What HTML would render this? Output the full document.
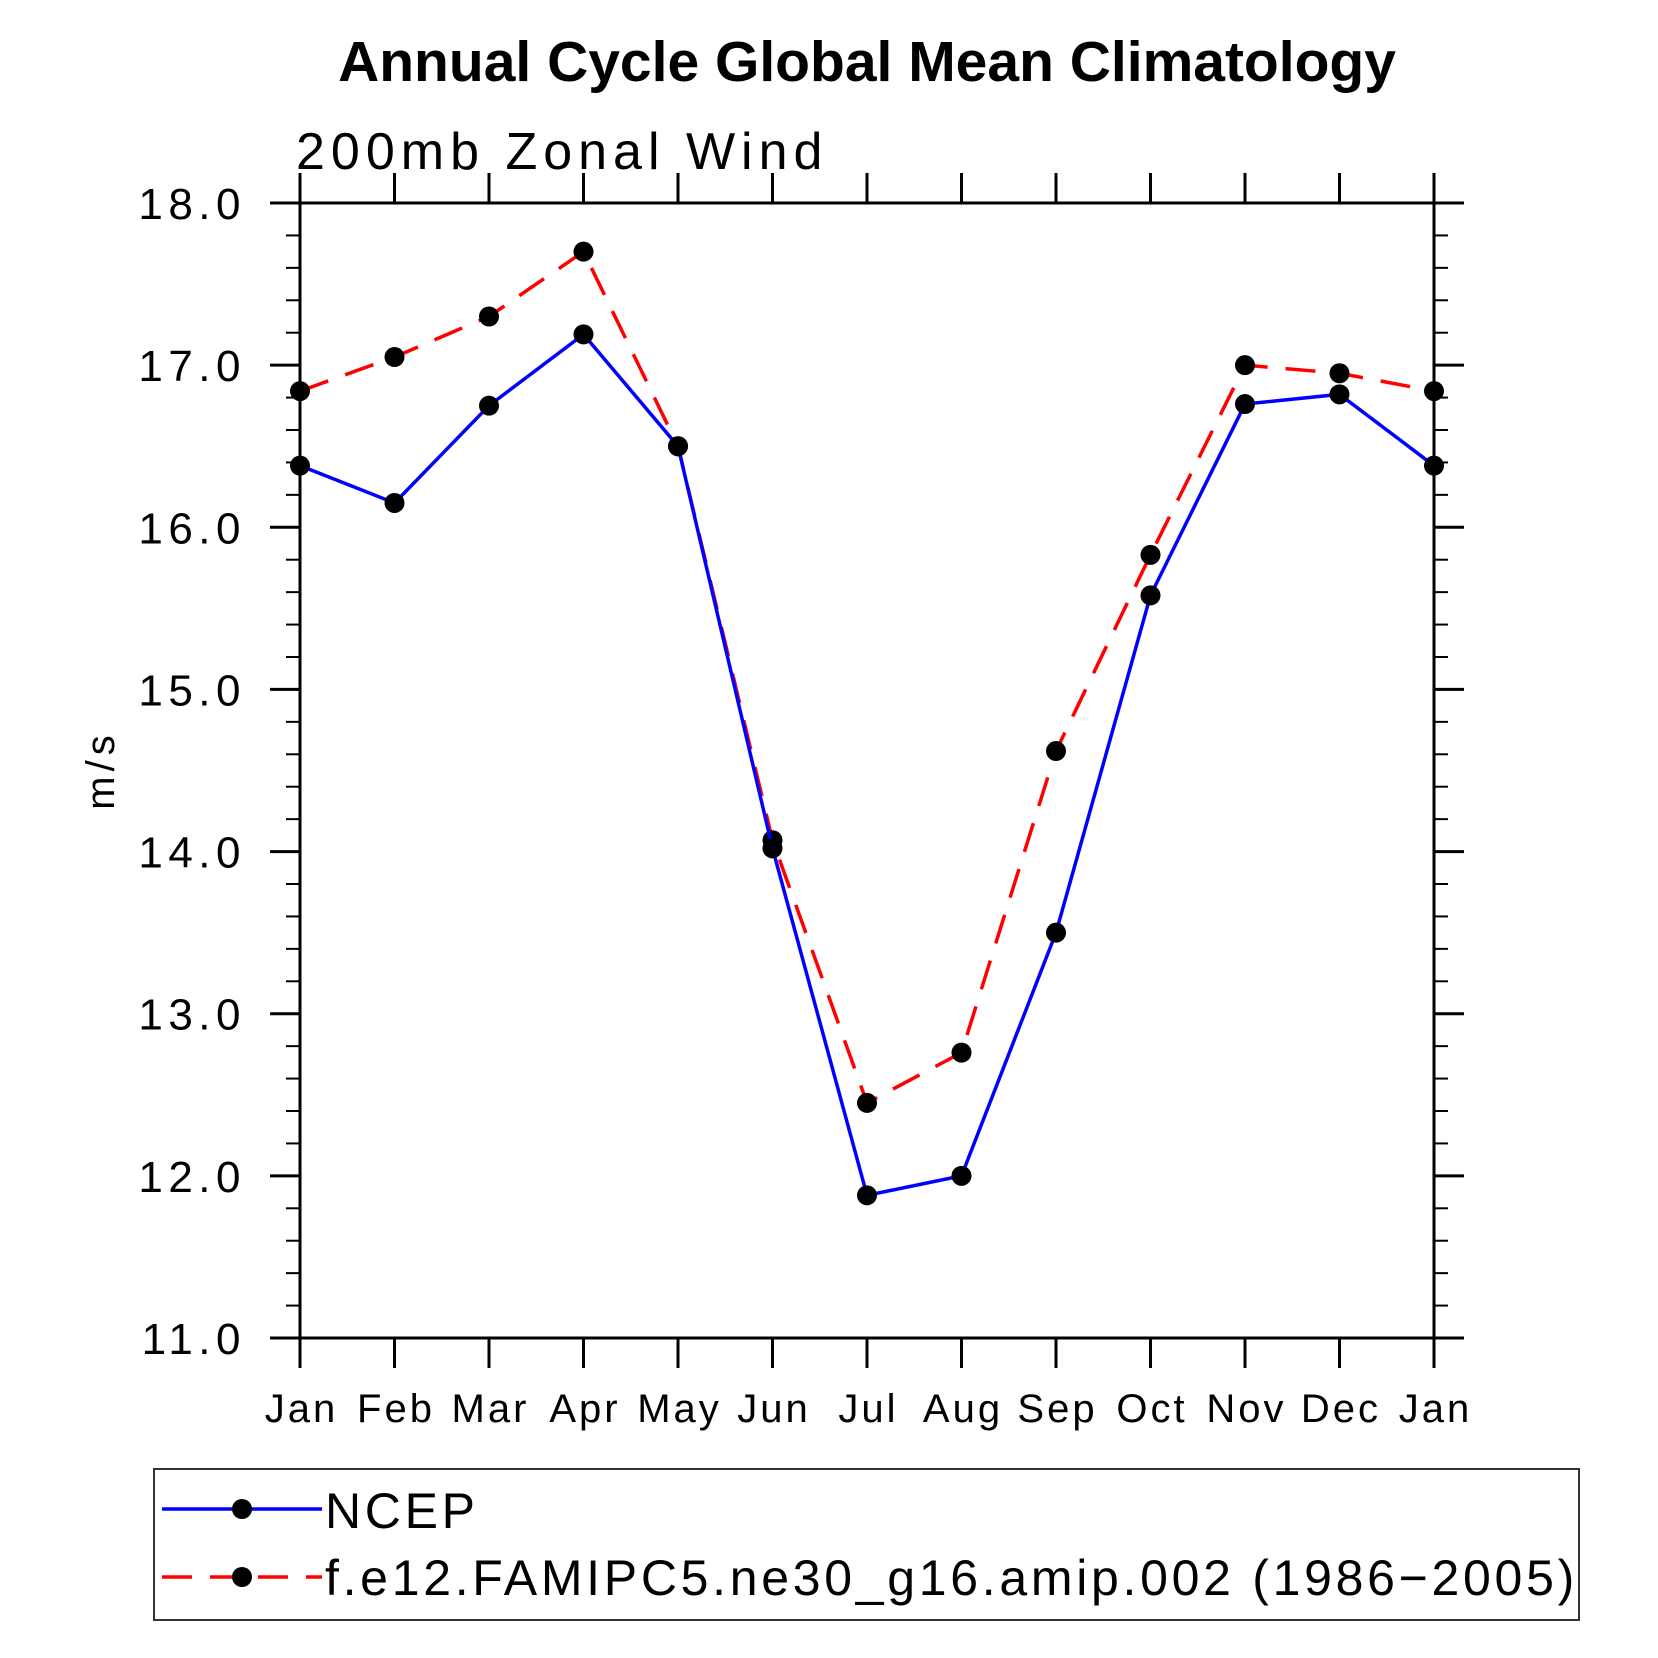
<!DOCTYPE html>
<html><head><meta charset="utf-8"><style>
html,body{margin:0;padding:0;background:#fff}
svg{display:block}
text{font-family:"Liberation Sans",sans-serif;fill:#000}
</style></head><body>
<svg id="chart" width="1658" height="1658" viewBox="0 0 1658 1658" xmlns="http://www.w3.org/2000/svg">
<text x="867" y="81" text-anchor="middle" font-size="57" font-weight="bold">Annual Cycle Global Mean Climatology</text>
<text x="296" y="169" font-size="52" letter-spacing="6">200mb Zonal Wind</text>
<text transform="translate(114,770) rotate(-90)" text-anchor="middle" font-size="40" letter-spacing="5">m/s</text>
<g id="axes"></g>
<g id="series"></g>
<rect x="154" y="1469" width="1425" height="151" fill="none" stroke="#333" stroke-width="2"/>
<g>
<line x1="162" y1="1509" x2="322" y2="1509" stroke="#0000ff" stroke-width="3.5"/>
<circle cx="242" cy="1509" r="10" fill="#000"/>
<text x="325" y="1528" font-size="50" letter-spacing="3.7">NCEP</text>
</g>
<g>
<line x1="162" y1="1577" x2="322" y2="1577" stroke="#ff0000" stroke-width="3.5" stroke-dasharray="30,18"/>
<circle cx="242" cy="1577" r="10" fill="#000"/>
<text x="325" y="1595" font-size="50" letter-spacing="3.7">f.e12.FAMIPC5.ne30_g16.amip.002 (1986−2005)</text>
</g>
</svg>
<script>
const months=["Jan","Feb","Mar","Apr","May","Jun","Jul","Aug","Sep","Oct","Nov","Dec","Jan"];
const ncep=[16.38,16.15,16.75,17.19,16.5,14.02,11.88,12.0,13.5,15.58,16.76,16.82,16.38];
const model=[16.84,17.05,17.3,17.7,16.5,14.07,12.45,12.76,14.62,15.83,17.0,16.95,16.84];
const yTicks=["11.0","12.0","13.0","14.0","15.0","16.0","17.0","18.0"];
const X0=300,X1=1434,Y0=1338,Y1=203,YMIN=11,YMAX=18;
const xs=i=>X0+(X1-X0)*i/(months.length-1);
const ys=v=>Y0-(Y0-Y1)*(v-YMIN)/(YMAX-YMIN);
const NS="http://www.w3.org/2000/svg";
function mk(tag,attrs,parent){const e=document.createElementNS(NS,tag);for(const k in attrs)e.setAttribute(k,attrs[k]);parent.appendChild(e);return e;}
const ax=document.getElementById('axes');
const frame=mk('rect',{x:X0,y:Y1,width:X1-X0,height:Y0-Y1,fill:'none',stroke:'#000','stroke-width':3},ax);


months.forEach((m,i)=>{
  const x=xs(i);
  mk('line',{x1:x,y1:Y0,x2:x,y2:Y0+30,stroke:'#000','stroke-width':3},ax);
  mk('line',{x1:x,y1:Y1,x2:x,y2:Y1-30,stroke:'#000','stroke-width':3},ax);
  const t=mk('text',{x:x+1.5,y:1422,'text-anchor':'middle','font-size':40,'letter-spacing':3},ax);
  t.textContent=m;
  
  
});
yTicks.forEach(s=>{
  const v=parseFloat(s),y=ys(v);
  mk('line',{x1:X0,y1:y,x2:X0-30,y2:y,stroke:'#000','stroke-width':3},ax);
  mk('line',{x1:X1,y1:y,x2:X1+30,y2:y,stroke:'#000','stroke-width':3},ax);
  const t=mk('text',{x:246,y:y+16,'text-anchor':'end','font-size':44,'letter-spacing':5.5},ax);
  t.textContent=s;
  
  
  if(v<YMAX){for(let k=1;k<5;k++){const yy=ys(v+k*0.2);
    mk('line',{x1:X0,y1:yy,x2:X0-14,y2:yy,stroke:'#000','stroke-width':2},ax);
    mk('line',{x1:X1,y1:yy,x2:X1+14,y2:yy,stroke:'#000','stroke-width':2},ax);}}
});
const sg=document.getElementById('series');
function drawSeries(vals,color,dash,name){
  const p=mk('polyline',{points:vals.map((v,i)=>xs(i)+','+ys(v)).join(' '),fill:'none',stroke:color,'stroke-width':3.5},sg);
  if(dash)p.setAttribute('stroke-dasharray',dash);
  
  
  vals.forEach((v,i)=>{
    const c=mk('circle',{cx:xs(i),cy:ys(v),r:10,fill:'#000'},sg);
    
    
  });
}
drawSeries(model,'#ff0000','30,18','model');
drawSeries(ncep,'#0000ff',null,'ncep');
</script>
</body></html>
